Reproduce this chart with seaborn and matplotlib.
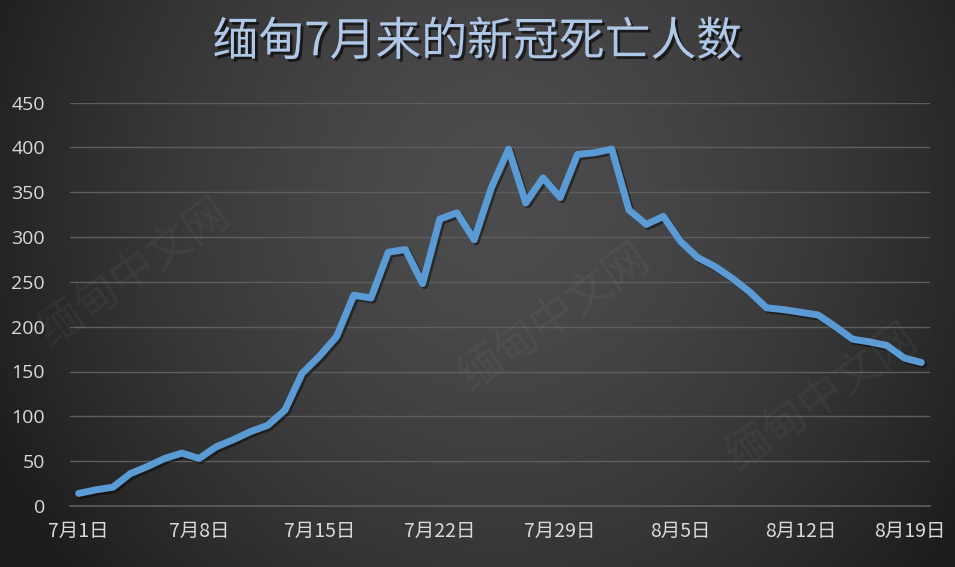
import numpy as np
import pandas as pd
import matplotlib
matplotlib.use("Agg")
import matplotlib.pyplot as plt
import matplotlib.patheffects as pe
import matplotlib.transforms as mtransforms
from matplotlib.ticker import FixedLocator
import seaborn as sns

# ── 数据 ────────────────────────────────────────────────────────────────────
dates = pd.date_range("2021-07-01", "2021-08-19", freq="D")
deaths = [14, 18, 21, 36, 44, 53, 59, 53, 66, 74,
          83, 90, 107, 148, 167, 189, 235, 232, 283, 286,
          248, 320, 327, 297, 355, 398, 338, 366, 344, 392,
          394, 398, 330, 314, 323, 295, 277, 267, 254, 239,
          221, 219, 216, 213, 200, 186, 183, 179, 165, 160]
tick_labels = ["7月1日", "7月8日", "7月15日", "7月22日", "7月29日",
               "8月5日", "8月12日", "8月19日"]
title = "缅甸7月来的新冠死亡人数"
watermark = "缅甸中文网"

LINE = "#5B9BD5"
TXT = "#D9D9D9"
GRID = "#5E5E5E"

df = pd.DataFrame({"idx": np.arange(len(dates)), "deaths": deaths})

sns.set_style("dark")
plt.rcParams["font.family"] = ["Noto Sans CJK SC", "DejaVu Sans"]

fig = plt.figure(figsize=(9.55, 5.67), dpi=100)

# ── 背景渐变 ────────────────────────────────────────────────────────────────
bg = fig.add_axes([0, 0, 1, 1], zorder=-10)
gx, gy = np.meshgrid(np.linspace(0, 1, 400), np.linspace(0, 1, 240))
r = np.sqrt(((gx - 0.52) / 0.62) ** 2 + ((gy - 0.35) / 1.1) ** 2)
shade = np.clip(76 - 52 * r ** 1.6, 28, 80) / 255.0
bg.imshow(np.dstack([shade, shade, shade * 1.02]).clip(0, 1),
          aspect="auto", extent=[0, 1, 0, 1], interpolation="bilinear")
bg.set_axis_off()

ax = fig.add_axes([70 / 955, 1 - 506 / 567, 860 / 955, 403.5 / 567])
ax.set_facecolor("none")

# 水印
for (wx, wy, rot) in [(0.14, 0.52, 35), (0.58, 0.44, 35), (0.86, 0.30, 35)]:
    fig.text(wx, wy, watermark, fontsize=32, color="white", alpha=0.045,
             rotation=rot, ha="center", va="center")

sns.lineplot(data=df, x="idx", y="deaths", ax=ax, color=LINE, lw=5,
             solid_joinstyle="round", solid_capstyle="round",
             path_effects=[pe.SimpleLineShadow(offset=(1.5, -1.5), shadow_color="black", alpha=0.45),
                           pe.Normal()])

ax.set_xlim(-0.5, len(deaths) - 0.5)
ax.set_ylim(0, 450)
ax.set_yticks(np.arange(0, 451, 50))
ax.yaxis.grid(True, color=GRID, lw=1.0)
ax.xaxis.grid(False)
ax.set_xticks(np.arange(0, len(deaths), 7))
ax.set_xticklabels(tick_labels)
ax.xaxis.set_minor_locator(FixedLocator(np.arange(-0.5, len(deaths), 7)))
ax.tick_params(axis="x", which="major", length=0, pad=11, labelsize=14, colors=TXT)
ax.tick_params(axis="x", which="minor", length=6, width=1, color=GRID, direction="out")
ax.tick_params(axis="y", length=0, pad=18, labelsize=14, colors=TXT)
for lab in ax.get_yticklabels():
    lab.set_family(["Open Sans", "DejaVu Sans"])
# 最后一个标签略向左移，避免贴边
last = ax.get_xticklabels()[-1]
last.set_transform(last.get_transform() +
                   mtransforms.ScaledTranslation(-8 / 72, 0, fig.dpi_scale_trans))
ax.set_xlabel("")
ax.set_ylabel("")
for s in ["top", "right", "left"]:
    ax.spines[s].set_visible(False)
ax.spines["bottom"].set_color(GRID)
ax.spines["bottom"].set_linewidth(1.2)

fig.text(0.5, 1 - 42 / 567, title, ha="center", va="center", fontsize=33,
         color="#AFC8E8",
         path_effects=[pe.withSimplePatchShadow(offset=(2, -2), shadow_rgbFace="black", alpha=0.6)])

fig.savefig("out.png", dpi=100)
